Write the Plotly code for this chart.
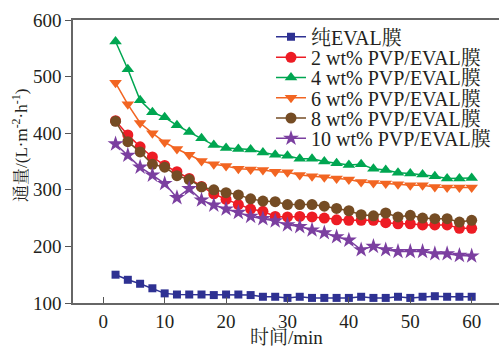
import plotly.graph_objects as go

time_min = list(range(2, 62, 2))

flux_pure = [150, 141, 134, 126, 117, 115, 115, 115, 114, 115, 115, 114, 111, 111, 109,
             111, 109, 109, 109, 109, 111, 109, 109, 111, 109, 111, 112, 111, 111, 111]
flux_2 = [422, 397, 376, 358, 343, 332, 320, 306, 293, 283, 274, 266, 262, 253, 252,
          253, 252, 250, 247, 246, 246, 246, 242, 240, 240, 238, 238, 238, 232, 232]
flux_4 = [562, 513, 458, 437, 428, 414, 402, 391, 379, 374, 372, 371, 366, 362, 360,
          355, 355, 350, 347, 344, 345, 337, 335, 330, 329, 327, 324, 320, 320, 321]
flux_6 = [489, 451, 418, 400, 384, 372, 362, 351, 345, 342, 337, 336, 335, 332, 331,
          326, 324, 322, 320, 318, 314, 312, 311, 310, 308, 308, 305, 304, 304, 304]
flux_8 = [421, 385, 367, 345, 340, 325, 318, 305, 300, 295, 291, 284, 280, 279, 274,
          274, 274, 271, 267, 263, 256, 254, 259, 252, 255, 250, 249, 249, 243, 246]
flux_10 = [381, 361, 340, 326, 311, 286, 302, 282, 273, 266, 260, 253, 249, 245, 238,
           235, 229, 224, 217, 211, 194, 200, 194, 191, 191, 191, 187, 187, 184, 183]

series_names = ["纯EVAL膜", "2 wt% PVP/EVAL膜", "4 wt% PVP/EVAL膜",
                "6 wt% PVP/EVAL膜", "8 wt% PVP/EVAL膜", "10 wt% PVP/EVAL膜"]
series_values = [flux_pure, flux_2, flux_4, flux_6, flux_8, flux_10]
colors = ["#2E3192", "#ED1C24", "#00A651", "#F26522", "#754C24", "#7B3FA0"]
symbols = ["square", "circle", "triangle-up", "triangle-down", "circle", "star"]
sizes = [8, 11, 11, 11, 11, 12]

x_ticks = [0, 10, 20, 30, 40, 50, 60]
y_ticks = [100, 200, 300, 400, 500, 600]

FONT = "Liberation Serif, 'Times New Roman', 'Noto Serif CJK SC', 'Noto Sans CJK SC', serif"

W, H = 499, 347
ML, MR, MT, MB = 73, 0, 20, 44
PW, PH = W - ML - MR, H - MT - MB

fig = go.Figure()
legend_rows = [36.7, 57.3, 77.5, 97.8, 118.0, 138.3]
legend_layout = {}
for i, (name, vals, c, s, sz) in enumerate(zip(series_names, series_values, colors, symbols, sizes)):
    key = "legend" if i == 0 else f"legend{i + 1}"
    fig.add_trace(go.Scatter(
        x=time_min, y=vals, name=name, mode="lines+markers",
        line=dict(color=c, width=1.5),
        marker=dict(symbol=s, size=sz, color=c, line=dict(width=0)),
        legend=key,
    ))
    legend_layout[key] = dict(
        x=(271 - ML) / PW, y=(MT + PH - legend_rows[i]) / PH,
        xanchor="left", yanchor="middle",
        bgcolor="rgba(0,0,0,0)", font=dict(size=20, family=FONT, color="#231F20"),
        itemwidth=30,
    )

fig.update_layout(
    width=W, height=H,
    margin=dict(l=ML, r=MR, t=MT, b=MB),
    paper_bgcolor="white", plot_bgcolor="white",
    font=dict(family=FONT, size=19, color="#231F20"),
    showlegend=True,
    xaxis=dict(range=[-4.93, 64.45], tickvals=x_ticks, ticks="inside", ticklen=6,
               tickcolor="#555", showline=True, linecolor="#666", linewidth=1.5,
               mirror=True, showgrid=False, zeroline=False,
               tickfont=dict(size=19)),
    yaxis=dict(range=[100, 600], tickvals=y_ticks, ticks="outside", ticklen=6,
               tickcolor="#555", showline=True, linecolor="#666", linewidth=1.5,
               showgrid=False, zeroline=False, tickfont=dict(size=19)),
    annotations=[
        dict(text="通量/(L·m<sup>-2</sup>·h<sup>-1</sup>)", xref="paper", yref="paper",
             x=-(ML - 20) / PW, y=(MT + PH - 146) / PH, xanchor="center", yanchor="middle",
             textangle=-90, showarrow=False, font=dict(size=17, family=FONT)),
        dict(text="时间/min", xref="paper", yref="paper",
             x=(286 - ML) / PW, y=-(337.5 - (MT + PH)) / PH, xanchor="center", yanchor="middle",
             showarrow=False, font=dict(size=19, family=FONT)),
    ],
    **legend_layout,
)

fig.write_html("out.html", config={"displayModeBar": False},
               post_script="document.body.style.margin='0';document.body.style.overflow='hidden';")
